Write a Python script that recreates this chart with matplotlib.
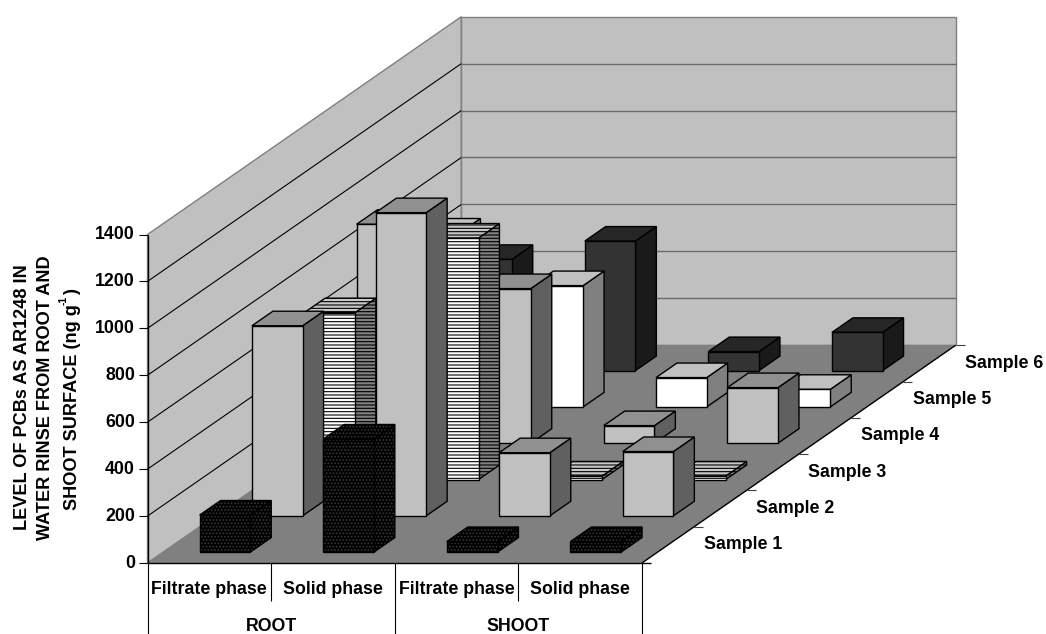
import matplotlib
matplotlib.use("Agg")
import matplotlib.pyplot as plt
from matplotlib.patches import Polygon

plt.rcParams['font.family'] = ['Liberation Sans', 'DejaVu Sans']
plt.rcParams['hatch.linewidth'] = 0.8

phases = ["Filtrate phase", "Solid phase", "Filtrate phase", "Solid phase"]
groups = ["ROOT", "SHOOT"]
samples = ["Sample 1", "Sample 2", "Sample 3", "Sample 4", "Sample 5", "Sample 6"]
yticks = [0, 200, 400, 600, 800, 1000, 1200, 1400]

sample1 = [158, 482, 45, 45]
sample2 = [810, 1292, 269, 274]
sample3 = [711, 1029, 15, 15]
sample4 = [933, 659, 75, 237]
sample5 = [741, 517, 125, 75]
sample6 = [474, 552, 81, 163]
series = [sample1, sample2, sample3, sample4, sample5, sample6]

# face, top, side fills and hatch per sample
styles = [
    dict(front='#000000', top='#000000', side='#000000', hatch='.....', hc='#383838'),
    dict(front='#c0c0c0', top='#909090', side='#606060', hatch=None, hc=None),
    dict(front='#ffffff', top='#c8c8c8', side='#808080', hatch='-----', hc='#000000'),
    dict(front='#c0c0c0', top='#909090', side='#606060', hatch=None, hc=None),
    dict(front='#ffffff', top='#c0c0c0', side='#808080', hatch=None, hc=None),
    dict(front='#333333', top='#262626', side='#1a1a1a', hatch=None, hc=None),
]

# oblique projection of the 3-D chart box onto the page
X0, Y0 = 147.5, 563.0
CAT_W = 123.6
DEP_X, DEP_Y = 52.3, -36.3
PX_PER_UNIT = 328.5 / 1400
BAR_W = 0.41
BAR_D = 0.40
YMAX = yticks[-1]
NC, NS = len(phases), len(samples)


def P(c, s, v=0):
    return (X0 + c * CAT_W + s * DEP_X, Y0 + s * DEP_Y - v * PX_PER_UNIT)


fig = plt.figure(figsize=(10.46, 6.34), dpi=100)
ax = fig.add_axes([0, 0, 1, 1])
ax.set_xlim(0, 1046)
ax.set_ylim(634, 0)
ax.axis('off')


def poly(pts, fc, ec='black', lw=1.0, hatch=None, hc=None):
    if hatch:
        ax.add_patch(Polygon(pts, closed=True, facecolor=fc, edgecolor=hc, hatch=hatch, lw=0, zorder=1))
        ax.add_patch(Polygon(pts, closed=True, fill=False, edgecolor=ec, lw=lw, joinstyle='miter', zorder=1))
    else:
        ax.add_patch(Polygon(pts, closed=True, facecolor=fc, edgecolor=ec, lw=lw, joinstyle='miter', zorder=1))


def line(a, b, color='black', lw=0.8):
    ax.plot([a[0], b[0]], [a[1], b[1]], color=color, lw=lw, solid_capstyle='butt', zorder=1)


# walls and floor
poly([P(0, 0, 0), P(0, NS, 0), P(0, NS, YMAX), P(0, 0, YMAX)], '#c0c0c0', '#808080', 1.0)
poly([P(0, NS, 0), P(NC, NS, 0), P(NC, NS, YMAX), P(0, NS, YMAX)], '#c0c0c0', '#808080', 1.0)
poly([P(0, 0, 0), P(NC, 0, 0), P(NC, NS, 0), P(0, NS, 0)], '#808080', '#808080', 0.5)

# gridlines
for t in yticks[1:-1]:
    line(P(0, 0, t), P(0, NS, t), 'black', 0.8)
    line(P(0, NS, t), P(NC, NS, t), '#6a6a6a', 1.0)

# bars, back to front
for s in range(NS - 1, -1, -1):
    st = styles[s]
    s0 = s + (1 - BAR_D) / 2
    s1 = s0 + BAR_D
    for c in range(NC):
        v = series[s][c]
        c0 = c + (1 - BAR_W) / 2
        c1 = c0 + BAR_W
        poly([P(c1, s0, 0), P(c1, s1, 0), P(c1, s1, v), P(c1, s0, v)], st['side'], hatch=st['hatch'], hc=st['hc'])
        poly([P(c0, s0, v), P(c1, s0, v), P(c1, s1, v), P(c0, s1, v)], st['top'], hatch=st['hatch'], hc=st['hc'])
        poly([P(c0, s0, 0), P(c1, s0, 0), P(c1, s0, v), P(c0, s0, v)], st['front'], hatch=st['hatch'], hc=st['hc'])

# value axis
FS = 12.8
FT = 13.1
line(P(0, 0, 0), P(0, 0, YMAX), 'black', 1.0)
for t in yticks:
    x, y = P(0, 0, t)
    line((x - 9, y), (x, y), 'black', 0.8)
    ax.text(x - 12.5, y, str(t), ha='right', va='center', fontsize=FS, fontweight='bold')

# category axis
line(P(0, 0, 0), (P(NC, 0, 0)[0] + 9, Y0), 'black', 1.0)
for c in range(NC + 1):
    x, _ = P(c, 0, 0)
    line((x, Y0), (x, 601 if c % 2 else 634), 'black', 0.8)
for c, lab in enumerate(phases):
    ax.text(P(c + 0.5, 0, 0)[0], 589, lab, ha='center', va='center', fontsize=FS, fontweight='bold')
for g, lab in enumerate(groups):
    ax.text(P(2 * g + 1, 0, 0)[0], 626.5, lab, ha='center', va='center', fontsize=FS, fontweight='bold')

# depth axis
line(P(NC, 0, 0), P(NC, NS, 0), 'black', 1.0)
for s in range(NS + 1):
    x, y = P(NC, s, 0)
    if s > 0:
        line((x, y), (x + 9, y), '#404040', 0.8)
for s, lab in enumerate(samples):
    x, y = P(NC, s + 0.5, 0)
    ax.text(x + 74.7, y, lab, ha='center', va='center', fontsize=FS, fontweight='bold')

# value axis title
ax.text(22.5, 397, "LEVEL OF PCBs AS AR1248 IN", rotation=90, ha='center', va='center', fontsize=FT, fontweight='bold')
ax.text(46, 398, "WATER RINSE FROM ROOT AND", rotation=90, ha='center', va='center', fontsize=FT, fontweight='bold')
ax.text(72.5, 510, "SHOOT SURFACE (ng g", rotation=90, ha='center', va='bottom', fontsize=FT, fontweight='bold')
ax.text(64, 305, "-1", rotation=90, ha='center', va='bottom', fontsize=7.5, fontweight='bold')
ax.text(72.5, 295, ")", rotation=90, ha='center', va='bottom', fontsize=FT, fontweight='bold')

fig.savefig('out.png', dpi=100, facecolor='white')
